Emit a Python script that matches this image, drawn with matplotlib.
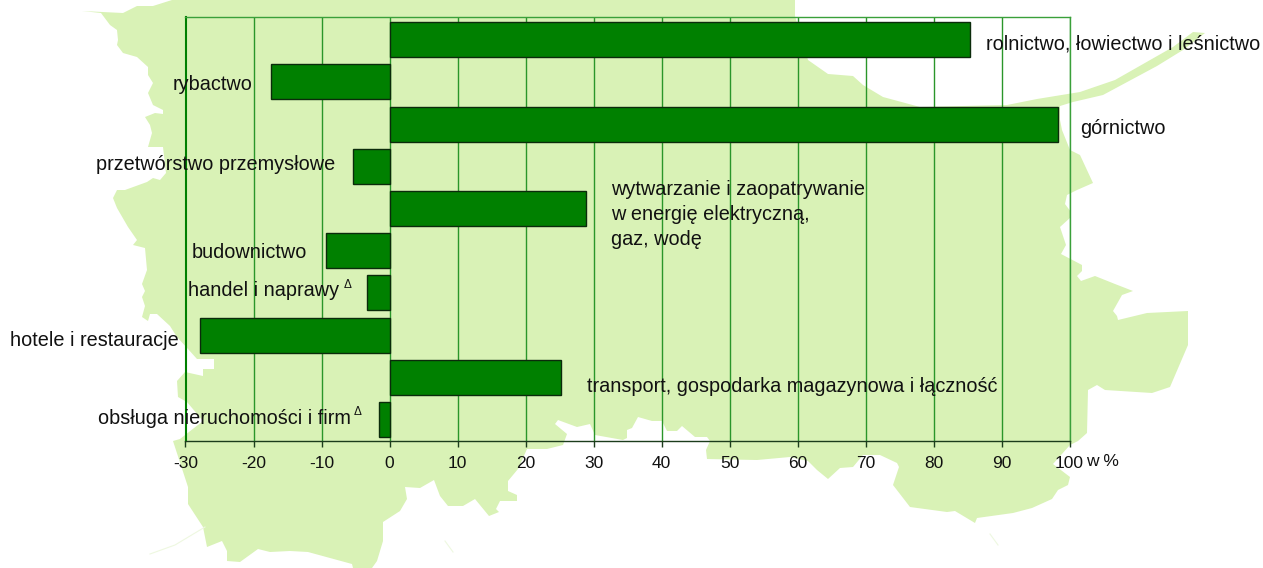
import matplotlib
matplotlib.use('Agg')
import matplotlib.pyplot as plt
from matplotlib.patches import Polygon

plt.rcParams['font.family'] = ['Liberation Sans', 'DejaVu Sans']
plt.rcParams['axes.unicode_minus'] = False

W, H = 1263, 568

# sectors, top to bottom
categories = ['rolnictwo, łowiectwo i leśnictwo', 'rybactwo', 'górnictwo', 'przetwórstwo przemysłowe',
              'wytwarzanie i zaopatrywanie\nw energię elektryczną,\ngaz, wodę', 'budownictwo',
              'handel i naprawy', 'hotele i restauracje',
              'transport, gospodarka magazynowa i łączność', 'obsługa nieruchomości i firm']
values = [85.4, -17.4, 98.3, -5.4, 28.9, -9.4, -3.3, -27.9, 25.2, -1.5]
x_ticks = [-30, -20, -10, 0, 10, 20, 30, 40, 50, 60, 70, 80, 90, 100]

# where the labels sit in the picture (left edge, centre height, in pixels)
label_pos = [(986, 44), (173, 84), (1080, 128), (96, 164), (611, 214),
             (192, 253), (188, 290), (10, 340), (587, 386), (98, 419)]

# background map, traced in pixels
map_outline = [
    (172, 0), (795, 0), (795, 16), (808, 60), (828, 74), (853, 76), (863, 85), (883, 97), (920, 107),
    (1007, 105), (1037, 99), (1080, 92), (1115, 80), (1173, 47), (1193, 32), (1205, 33), (1183, 50),
    (1157, 66), (1103, 95), (1073, 102), (1060, 106), (1060, 120), (1062, 130), (1070, 150), (1080, 155),
    (1093, 183), (1077, 190), (1067, 195), (1065, 204), (1071, 212), (1071, 217), (1060, 227), (1066, 245),
    (1061, 254), (1082, 265), (1082, 271), (1077, 276), (1081, 281), (1095, 276), (1115, 284), (1133, 291),
    (1122, 295), (1113, 311), (1117, 316), (1118, 320), (1147, 313), (1188, 311), (1188, 345), (1170, 387),
    (1152, 393), (1105, 390), (1097, 385), (1088, 390), (1087, 433), (1078, 441), (1070, 445), (1053, 464),
    (1070, 477), (1068, 485), (1058, 490), (1052, 499), (1032, 508), (1013, 513), (977, 518), (975, 523),
    (955, 511), (947, 512), (910, 507), (893, 485), (899, 467), (897, 463), (880, 455), (863, 455),
    (853, 467), (840, 468), (828, 479), (817, 470), (808, 461), (790, 457), (757, 460), (707, 459),
    (706, 450), (710, 441), (707, 437), (695, 437), (682, 426), (677, 431), (667, 431), (662, 421),
    (652, 421), (638, 417), (632, 428), (627, 430), (627, 438), (623, 440), (595, 435), (590, 424),
    (577, 427), (558, 420), (555, 424), (567, 434), (563, 445), (547, 449), (527, 449), (518, 469),
    (508, 481), (508, 491), (517, 495), (517, 501), (500, 501), (496, 509), (499, 512), (489, 516),
    (475, 499), (463, 506), (448, 506), (440, 496), (434, 480), (420, 488), (405, 487), (407, 499),
    (400, 511), (383, 522), (383, 541), (377, 561), (372, 568), (353, 568), (352, 564), (308, 552),
    (290, 551), (270, 552), (258, 549), (240, 562), (227, 561), (227, 551), (222, 541), (207, 547),
    (203, 527), (188, 504), (188, 487), (173, 441), (180, 439), (203, 421), (187, 402), (178, 397),
    (177, 381), (185, 372), (203, 376), (203, 369), (214, 369), (214, 359), (197, 359), (188, 349),
    (177, 337), (170, 326), (157, 314), (150, 314), (148, 321), (142, 317), (145, 306), (142, 297),
    (145, 291), (142, 284), (147, 270), (145, 248), (133, 245), (137, 240), (128, 227), (117, 208),
    (113, 198), (117, 190), (125, 190), (147, 182), (153, 178), (160, 180), (166, 173), (163, 147),
    (148, 147), (152, 133), (150, 125), (145, 117), (155, 113), (163, 114), (163, 110), (153, 105),
    (148, 93), (153, 83), (148, 75), (148, 67), (137, 57), (123, 53), (117, 45), (118, 40), (117, 30),
    (110, 25), (101, 13), (82, 11), (123, 13), (137, 6), (153, 6),
]

# faint slivers south of the map
slivers = [[(205, 527), (175, 545), (150, 554)], [(445, 541), (453, 552)], [(990, 534), (998, 545)]]

fig = plt.figure(figsize=(W / 100, H / 100), dpi=100)

# map behind everything
ax_map = fig.add_axes([0, 0, 1, 1])
ax_map.set_xlim(0, W)
ax_map.set_ylim(H, 0)
ax_map.axis('off')
ax_map.add_patch(Polygon(map_outline, closed=True, facecolor='#d9f2b6', edgecolor='none'))
for sliver in slivers:
    ax_map.plot([p[0] for p in sliver], [p[1] for p in sliver], color='#eef8e0', linewidth=0.8)

# the chart
left, right, top, bottom = 185.5, 1069.5, 16.7, 440.7
ax = fig.add_axes([left / W, 1 - bottom / H, (right - left) / W, (bottom - top) / H])
ax.patch.set_alpha(0)
ax.barh(range(len(values)), values, height=0.83, color='#008000', edgecolor='#0b2b0b', linewidth=1.0, zorder=3)
ax.set_xlim(-30, 100)
ax.set_ylim(9.5, -0.545)
ax.set_yticks([])
ax.set_xticks(x_ticks)
ax.tick_params(axis='x', length=4, width=1, color='#1c3c1c', pad=7, labelsize=12.5, labelcolor='#111111')
ax.grid(axis='x', color='#2a962a', linewidth=1.0, zorder=1)
ax.set_axisbelow(True)

for side in ['top', 'right']:
    ax.spines[side].set_color('#3aa03a')
    ax.spines[side].set_linewidth(1.0)
ax.spines['left'].set_color('#008000')
ax.spines['left'].set_linewidth(1.5)
ax.spines['bottom'].set_color('#1c3c1c')
ax.spines['bottom'].set_linewidth(1.0)

# labels are placed by hand like in the original
for label, (px, py) in zip(categories, label_pos):
    fig.text(px / W, 1 - py / H, label, fontsize=14.3, color='#111111', ha='left', va='center', linespacing=1.4)

fig.text(344 / W, 1 - 285 / H, 'Δ', fontsize=8.5, color='#111111', ha='left', va='center')
fig.text(354 / W, 1 - 412 / H, 'Δ', fontsize=8.5, color='#111111', ha='left', va='center')
fig.text(1086 / W, 1 - 462 / H, 'w %', fontsize=12.5, color='#111111', ha='left', va='center')

fig.savefig('out.png', dpi=100)
plt.close(fig)
